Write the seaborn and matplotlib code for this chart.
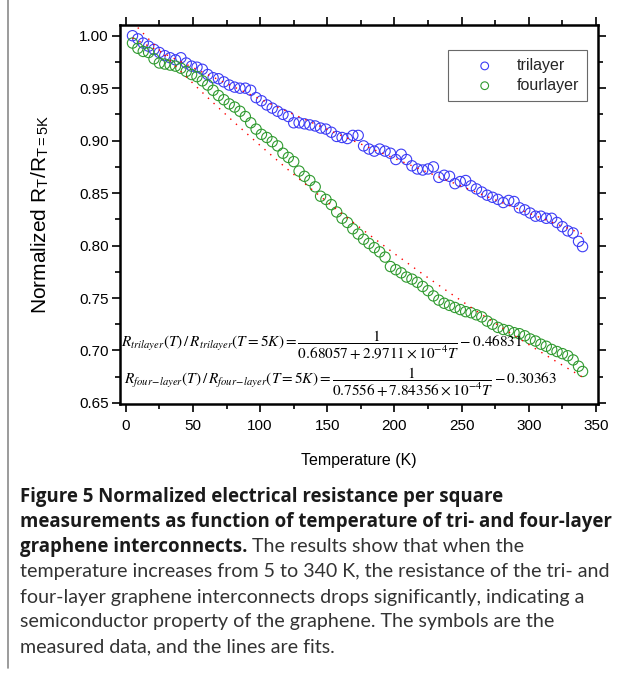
import matplotlib
matplotlib.use('Agg')
import matplotlib.pyplot as plt
from matplotlib.lines import Line2D
from matplotlib.ticker import MultipleLocator, FormatStrFormatter
import seaborn as sns

#-Data-read-off-the-figure--------------------------------------------------------------------------

temperature = [5, 9, 13, 17, 21, 25, 29, 33, 37, 41, 45, 49, 53, 57, 61, 65, 69, 73, 77, 81,
               85, 89, 93, 97, 101, 105, 109, 113, 117, 121, 125, 129, 133, 137, 141, 145, 149,
               153, 157, 161, 165, 169, 173, 177, 181, 185, 189, 193, 197, 201, 205, 209, 213,
               217, 221, 225, 229, 233, 237, 241, 245, 249, 253, 257, 261, 265, 269, 273, 277,
               281, 285, 289, 293, 297, 301, 305, 309, 313, 317, 321, 325, 329, 333, 337, 340]

trilayer = [1.000, 0.997, 0.993, 0.990, 0.987, 0.984, 0.981, 0.979, 0.977, 0.979, 0.974, 0.971,
            0.970, 0.968, 0.963, 0.960, 0.959, 0.956, 0.953, 0.951, 0.950, 0.950, 0.948, 0.941,
            0.938, 0.934, 0.931, 0.928, 0.925, 0.923, 0.917, 0.917, 0.916, 0.915, 0.914, 0.912,
            0.911, 0.908, 0.904, 0.903, 0.902, 0.905, 0.905, 0.895, 0.892, 0.890, 0.892, 0.890,
            0.888, 0.882, 0.887, 0.882, 0.876, 0.873, 0.872, 0.873, 0.875, 0.865, 0.867, 0.866,
            0.859, 0.861, 0.862, 0.857, 0.854, 0.851, 0.848, 0.846, 0.844, 0.841, 0.843, 0.842,
            0.836, 0.834, 0.831, 0.828, 0.828, 0.826, 0.826, 0.822, 0.818, 0.814, 0.812, 0.804,
            0.799]

fourlayer = [0.993, 0.988, 0.985, 0.984, 0.978, 0.974, 0.973, 0.972, 0.971, 0.969, 0.966, 0.963,
             0.961, 0.957, 0.953, 0.948, 0.943, 0.939, 0.935, 0.932, 0.928, 0.923, 0.917, 0.911,
             0.906, 0.903, 0.899, 0.895, 0.888, 0.884, 0.880, 0.871, 0.866, 0.862, 0.856, 0.847,
             0.844, 0.839, 0.832, 0.826, 0.822, 0.816, 0.811, 0.806, 0.802, 0.798, 0.794, 0.789,
             0.780, 0.777, 0.774, 0.770, 0.768, 0.765, 0.761, 0.757, 0.752, 0.748, 0.745, 0.743,
             0.741, 0.739, 0.737, 0.736, 0.734, 0.732, 0.728, 0.725, 0.722, 0.720, 0.719, 0.717,
             0.716, 0.714, 0.711, 0.709, 0.706, 0.704, 0.701, 0.699, 0.697, 0.695, 0.691, 0.685,
             0.680]

fit_temperature = [5, 20, 40, 60, 80, 100, 120, 140, 160, 180, 200, 220, 240, 260, 280, 300,
                   320, 340]
trilayer_fit = [0.9978, 0.9883, 0.9758, 0.9635, 0.9515, 0.9396, 0.9279, 0.9164, 0.9051, 0.8940,
                0.8831, 0.8723, 0.8617, 0.8513, 0.8410, 0.8309, 0.8209, 0.8111]
fourlayer_fit = [1.0130, 0.9929, 0.9671, 0.9422, 0.9183, 0.8954, 0.8732, 0.8519, 0.8313, 0.8115,
                 0.7923, 0.7738, 0.7559, 0.7385, 0.7218, 0.7056, 0.6898, 0.6746]

eq_trilayer = (r'$R_{trilayer}(T)\,/\,R_{trilayer}(T=5K)='
               r'\dfrac{1}{0.68057+2.9711\times10^{-4}T}-0.46831$')
eq_fourlayer = (r'$R_{four\!-\!layer}(T)\,/\,R_{four\!-\!layer}(T=5K)='
                r'\dfrac{1}{0.7556+7.84356\times10^{-4}T}-0.30363$')

caption_bold = ['Figure 5 Normalized electrical resistance per square',
                'measurements as function of temperature of tri- and four-layer',
                'graphene interconnects.']
caption_text = ['The results show that when the',
                'temperature increases from 5 to 340 K, the resistance of the tri- and',
                'four-layer graphene interconnects drops significantly, indicating a',
                'semiconductor property of the graphene. The symbols are the',
                'measured data, and the lines are fits.']

blue, green = '#3b3bf5', '#2f9a2f'

#-Figure--------------------------------------------------------------------------------------------

W, H = 627, 674
sns.set_theme(style='white')
plt.rcParams['font.family'] = ['Liberation Sans', 'DejaVu Sans']
plt.rcParams['mathtext.fontset'] = 'stix'

fig = plt.figure(figsize=(W / 100, H / 100), dpi=100)
ax = fig.add_axes([120 / W, 1 - 404 / H, 478 / W, (404 - 24.7) / H])

sns.scatterplot(x=temperature, y=trilayer, ax=ax, marker='o', s=55, color=blue,
                facecolor='none', edgecolor=blue, linewidth=0.8, label='trilayer', zorder=2)
sns.scatterplot(x=temperature, y=fourlayer, ax=ax, marker='o', s=55, color=green,
                facecolor='none', edgecolor=green, linewidth=0.8, label='fourlayer', zorder=2)

ax.plot(fit_temperature, trilayer_fit, color='red', lw=1.0, linestyle=(0, (1, 4.5)), zorder=3)
ax.plot(fit_temperature, fourlayer_fit, color='red', lw=1.0, linestyle=(0, (1, 4.5)), zorder=3)

ax.set_xlim(-4.3, 351.5)
ax.set_ylim(0.649, 1.0105)
ax.xaxis.set_major_locator(MultipleLocator(50))
ax.xaxis.set_minor_locator(MultipleLocator(25))
ax.yaxis.set_major_locator(MultipleLocator(0.05))
ax.yaxis.set_minor_locator(MultipleLocator(0.025))
ax.yaxis.set_major_formatter(FormatStrFormatter('%.2f'))

for s in ax.spines.values():
    s.set_color('black')
    s.set_linewidth(1.8)
ax.tick_params(which='both', direction='out', bottom=True, left=True, top=True, right=True,
               color='black', labelsize=11, labelcolor='black')
ax.tick_params(which='major', length=6, width=1.2)
ax.tick_params(which='minor', length=3.5, width=1.2)
ax.tick_params(axis='x', pad=5)
ax.tick_params(axis='y', pad=2)

ax.set_xlabel('Temperature (K)', fontsize=11.5, color='black')
ax.set_ylabel(r'Normalized R$_\mathregular{T}$/R$_\mathregular{T=5K}$', fontsize=15,
              color='black')
ax.xaxis.set_label_coords(0.5, -0.13)
ax.yaxis.set_label_coords(-0.145, 0.5)

leg = ax.legend(loc='upper right', bbox_to_anchor=(0.977, 0.933), borderaxespad=0,
                fontsize=11.5, frameon=True, fancybox=False, edgecolor='#444444',
                handlelength=3.6, handletextpad=0.2, borderpad=0.5, labelspacing=0.3,
                markerscale=0.75)
leg.get_frame().set_linewidth(0.8)

ax.text(0.002, 0.155, eq_trilayer, transform=ax.transAxes, fontsize=11, va='center',
        ha='left', color='black')
ax.text(0.008, 0.058, eq_fourlayer, transform=ax.transAxes, fontsize=11, va='center',
        ha='left', color='black')

#-Caption-------------------------------------------------------------------------------------------

fig.add_artist(Line2D([8 / W, 8 / W], [1, 6 / H], color='#8a8a8a', lw=1.2))

renderer = fig.canvas.get_renderer()


def fitted_size(txt, target_px, **kw):
    t = fig.text(0, 0, txt, fontsize=10, **kw)
    w = t.get_window_extent(renderer=renderer).width
    t.remove()
    return 10 * target_px / w


bold_kw = dict(family=['Open Sans', 'DejaVu Sans'], fontweight='bold')
reg_kw = dict(family=['Lato', 'DejaVu Sans'])
bold_size = fitted_size(caption_bold[1], 592, **bold_kw)
reg_size = fitted_size(caption_text[1], 592, **reg_kw)

line_y = [497, 522, 547, 572, 597, 622, 647]
for i, txt in enumerate(caption_bold):
    t = fig.text(20 / W, 1 - line_y[i] / H, txt, fontsize=bold_size, color='#1a1a1a',
                 va='center', ha='left', **bold_kw)
bb = t.get_window_extent(renderer=renderer)
fig.text((bb.x1 + 5) / W, 1 - line_y[2] / H, caption_text[0], fontsize=reg_size,
         color='#333333', va='center', ha='left', **reg_kw)
for i, txt in enumerate(caption_text[1:]):
    fig.text(20 / W, 1 - line_y[i + 3] / H, txt, fontsize=reg_size, color='#333333',
             va='center', ha='left', **reg_kw)

fig.savefig('out.png', dpi=100)
